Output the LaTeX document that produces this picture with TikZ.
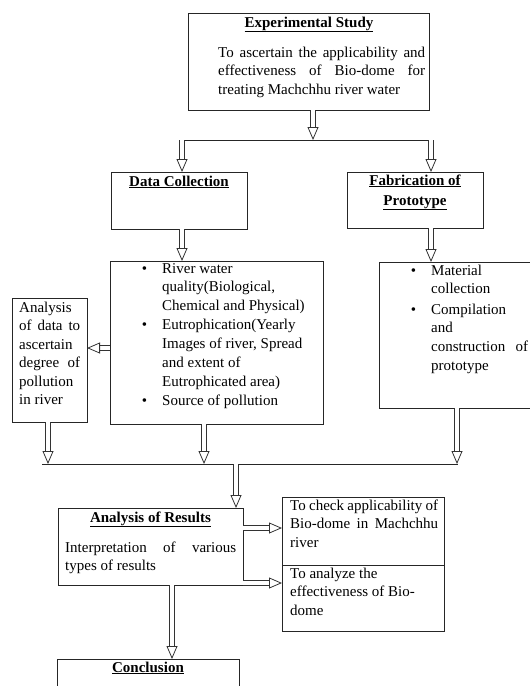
\documentclass[tikz,border=0pt]{standalone}
\usepackage{fontspec}
\setmainfont{Liberation Serif}
\usetikzlibrary{arrows.meta,calc}
\hbadness=10000
\begin{document}
\begin{tikzpicture}[x=1pt,y=-1pt,
  box/.style={draw=black!85, line width=0.9pt, anchor=north west, inner sep=0pt, outer sep=0pt},
  txt/.style={anchor=base west, inner sep=0pt, font=\fontsize{15}{18.6}\selectfont},
  ttl/.style={anchor=base, inner sep=0pt, font=\fontsize{15}{19}\selectfont\bfseries},
  dbl/.style={draw=black!80, double, double distance=3.8pt, line width=0.8pt,
    -{Triangle[open, length=13pt, width=11pt, line width=0.8pt]}},
  hline/.style={draw=black!85, line width=0.9pt}
]
\useasboundingbox (0,0) rectangle (530,686);
\clip (0,0) rectangle (530,686);
\newcommand{\ul}[1]{\underline{#1}}
\newcommand{\bul}{\leavevmode\llap{\textbullet\hspace{15pt}}}

% boxes
\node[box, minimum width=241pt, minimum height=97pt] (exp) at (188,13) {};
\node[box, minimum width=136pt, minimum height=57pt] (dc) at (111,172) {};
\node[box, minimum width=136pt, minimum height=56pt] (fab) at (347,172) {};
\node[box, minimum width=213pt, minimum height=163pt] (dcl) at (110,261) {};
\node[box, minimum width=170pt, minimum height=146pt] (fabl) at (379,262) {};
\node[box, minimum width=75pt, minimum height=124pt] (ana) at (12,298) {};
\node[box, minimum width=185pt, minimum height=77pt] (res) at (58,508) {};
\node[box, minimum width=162pt, minimum height=68pt] (chk) at (282,497) {};
\node[box, minimum width=162pt, minimum height=66pt] (eff) at (282,565) {};
\node[box, minimum width=182pt, minimum height=45pt] (con) at (57,659) {};

% texts
\node[ttl] (expT) at (309,27) {\ul{Experimental Study}};
\node[txt] (expX) at (218,57) {\parbox[t]{207pt}{To ascertain the applicability and\linebreak effectiveness of Bio-dome for\linebreak treating Machchhu river water}};
\node[ttl] (dcT) at (179,186) {\ul{Data Collection}};
\node[ttl] (fabT1) at (415,185) {\ul{Fabrication of}};
\node[ttl] (fabT2) at (415,205) {\ul{Prototype}};
\node[txt] (dclX) at (162,273) {\parbox[t]{155pt}{\fontsize{15}{18.9}\selectfont\bul River water\\ quality(Biological,\\ Chemical and Physical)\\ \bul Eutrophication(Yearly\\ Images of river, Spread\\ and extent of\\ Eutrophicated area)\\ \bul Source of pollution}};
\node[txt] (fablX) at (431,275) {\parbox[t]{97pt}{\bul Material\newline collection\\[2pt] \bul Compilation\newline and\newline construction of\linebreak prototype}};
\node[txt] (anaX) at (19,312) {\parbox[t]{61pt}{\fontsize{15}{18.5}\selectfont Analysis\newline of data to\linebreak ascertain\newline degree of\linebreak pollution\newline in river}};
\node[ttl] (resT) at (150.5,522) {\ul{Analysis of Results}};
\node[txt] (resX) at (65,552) {\parbox[t]{171pt}{\fontsize{15}{18}\selectfont Interpretation of various\linebreak types of results}};
\node[txt] (chkX) at (290,510) {\parbox[t]{148pt}{To check applicability of\linebreak Bio-dome in Machchhu\linebreak river}};
\node[txt] (effX) at (290,578) {\parbox[t]{148pt}{To analyze the\newline effectiveness of Bio-\newline dome}};
\node[ttl] (conT) at (148,672) {\ul{Conclusion}};

% coordinates of the splitting lines and arrow rows
\coordinate (s1) at (313,140);
\coordinate (s1l) at (180,140);
\coordinate (s1r) at (432,140);
\coordinate (a1) at (182,140);
\coordinate (a2) at (431,140);
\coordinate (s2) at (236,464);
\coordinate (s2l) at (42,464);
\coordinate (s2r) at (458,464);
\coordinate (b1) at (48,464);
\coordinate (b2) at (204,464);
\coordinate (b3) at (457,464);
\coordinate (r1) at (0,348);
\coordinate (r2) at (0,528);
\coordinate (r3) at (0,583);
\coordinate (c1) at (172,0);

% connectors
\draw[dbl] (s1 |- exp.south) -- (s1);
\draw[hline] (s1l) -- (s1r);
\draw[dbl] (a1) -- (a1 |- dc.north);
\draw[dbl] (a2) -- (a2 |- fab.north);
\draw[dbl] (a1 |- dc.south) -- (a1 |- dcl.north);
\draw[dbl] (a2 |- fab.south) -- (a2 |- fabl.north);
\draw[dbl] (dcl.west |- r1) -- (ana.east |- r1);
\draw[dbl] (b1 |- ana.south) -- (b1);
\draw[dbl] (b2 |- dcl.south) -- (b2);
\draw[dbl] (b3 |- fabl.south) -- (b3);
\draw[hline] (s2l) -- (s2r);
\draw[dbl] (s2) -- (s2 |- res.north);
\draw[dbl] (res.east |- r2) -- (chk.west |- r2);
\draw[dbl] (res.east |- r3) -- (eff.west |- r3);
\draw[dbl] (c1 |- res.south) -- (c1 |- con.north);
\end{tikzpicture}
\end{document}
